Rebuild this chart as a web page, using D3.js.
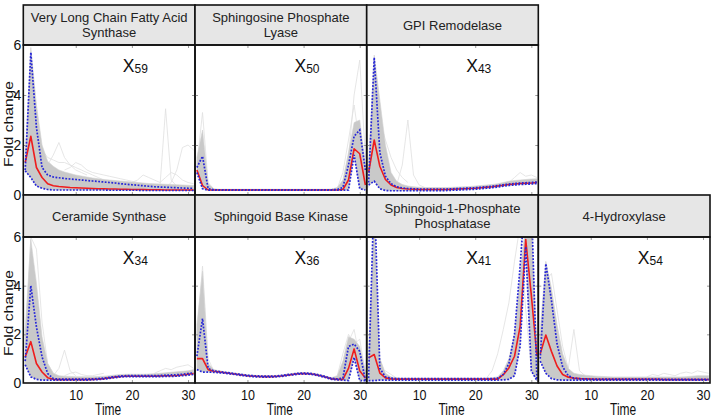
<!DOCTYPE html>
<html><head><meta charset="utf-8">
<script src="https://cdn.jsdelivr.net/npm/d3@7"></script>
<style>
html,body{margin:0;padding:0;background:#fff;}
svg text{font-family:"Liberation Sans",Arial,sans-serif;}
</style></head>
<body><svg id="chart" width="715" height="418"></svg>
<script>
// ---------- data ----------
const times = d3.range(1, 32);
const yTicks = [0, 2, 4, 6];
const xTicks = [10, 20, 30];

const titles = [
  ["Very Long Chain Fatty Acid", "Synthase"],
  ["Sphingosine Phosphate", "Lyase"],
  ["GPI Remodelase"],
  ["Ceramide Synthase"],
  ["Sphingoid Base Kinase"],
  ["Sphingoid-1-Phosphate", "Phosphatase"],
  ["4-Hydroxylase"]
];
const clusterIds = ["59", "50", "43", "34", "36", "41", "54"];

// Very Long Chain Fatty Acid Synthase
const mean0  = [1.3,2.35,1.1,0.7,0.45,0.37,0.34,0.32,0.3,0.29, 0.28,0.27,0.26,0.25,0.25,0.24,0.24,0.23,0.23,0.22, 0.22,0.22,0.21,0.21,0.21,0.2,0.2,0.2,0.2,0.2,0.2];
const upper0 = [1.0,5.7,2.7,1.1,0.8,0.72,0.69,0.66,0.64,0.62, 0.6,0.58,0.56,0.54,0.52,0.5,0.48,0.45,0.43,0.41, 0.39,0.37,0.35,0.33,0.32,0.31,0.3,0.29,0.28,0.27,0.27];
const lower0 = [0.97,0.7,0.36,0.27,0.22,0.2,0.2,0.2,0.2,0.2, 0.2,0.2,0.2,0.2,0.2,0.19,0.19,0.19,0.19,0.19, 0.19,0.18,0.18,0.18,0.18,0.18,0.18,0.18,0.18,0.18,0.18];
const band0  = [1.6,5.9,3.6,2.0,1.35,1.15,1.0,0.92,0.86,0.8, 0.76,0.72,0.68,0.65,0.62,0.6,0.58,0.56,0.54,0.52, 0.5,0.48,0.46,0.45,0.44,0.43,0.42,0.41,0.4,0.39,0.38];
const faint0 = [
  {start:24, v:[0.3,0.35,3.45,0.6,0.35,0.3]},
  {start:26, v:[0.3,0.5,1.0,1.9,2.0,1.8]},
  {start:5,  v:[1.2,1.6,2.1,1.5,1.2,1.0,0.9,0.8]},
  {start:3,  v:[2.5,1.8,1.5,1.4,1.3,1.3,1.2,1.1,1.0,0.9,0.8,0.7,0.6,0.5]},
  {start:8,  v:[1.0,1.1,1.3,1.2,1.0,0.9,0.85,0.8,0.75,0.7,0.65,0.6,0.55,0.5]},
  {start:20, v:[0.5,0.6,0.8,0.7,0.6,0.5,0.7,0.9,0.8,0.6,0.5,0.45]}
];

// Sphingosine Phosphate Lyase
const mean1  = [1.0,0.38,0.2,0.2,0.2,0.2,0.2,0.2,0.2,0.2, 0.2,0.2,0.2,0.2,0.2,0.2,0.2,0.2,0.2,0.2, 0.2,0.2,0.2,0.2,0.2,0.2,0.22,0.6,1.85,1.65,0.4];
const upper1 = [1.1,1.55,0.25,0.21,0.21,0.21,0.21,0.21,0.21,0.21, 0.21,0.21,0.21,0.21,0.21,0.21,0.21,0.21,0.21,0.21, 0.21,0.21,0.21,0.21,0.21,0.22,0.3,1.2,2.35,2.6,1.0];
const lower1 = [0.9,0.25,0.19,0.19,0.19,0.19,0.19,0.19,0.19,0.19, 0.19,0.19,0.19,0.19,0.19,0.19,0.19,0.19,0.19,0.19, 0.19,0.19,0.19,0.19,0.19,0.19,0.19,0.2,1.6,0.25,0.2];
const band1  = [1.5,2.6,0.45,0.25,0.23,0.23,0.23,0.23,0.23,0.23, 0.23,0.23,0.23,0.23,0.23,0.23,0.23,0.23,0.23,0.23, 0.23,0.23,0.23,0.23,0.24,0.3,0.6,1.7,2.9,3.0,1.2];
const faint1 = [
  {start:1,  v:[1.2,3.3,0.5,0.25]},
  {start:1,  v:[0.8,2.2,0.3]},
  {start:27, v:[0.3,1.5,4.0,5.4,1.5]},
  {start:26, v:[0.25,0.9,2.2,3.6,2.0]}
];

// GPI Remodelase
const mean2  = [0.9,2.2,1.15,0.62,0.4,0.3,0.26,0.24,0.23,0.22, 0.22,0.22,0.22,0.22,0.22,0.23,0.24,0.25,0.26,0.27, 0.29,0.31,0.33,0.36,0.39,0.42,0.44,0.46,0.47,0.48,0.5];
const upper2 = [0.5,5.5,1.7,0.75,0.45,0.33,0.28,0.26,0.25,0.24, 0.24,0.24,0.24,0.24,0.24,0.25,0.26,0.27,0.28,0.29, 0.31,0.33,0.35,0.38,0.41,0.44,0.46,0.48,0.49,0.5,0.52];
const lower2 = [0.4,0.55,0.25,0.18,0.17,0.17,0.17,0.17,0.17,0.17, 0.17,0.17,0.17,0.17,0.18,0.19,0.2,0.21,0.22,0.23, 0.25,0.27,0.29,0.32,0.35,0.38,0.4,0.42,0.43,0.44,0.46];
const band2  = [1.3,5.6,3.8,2.0,0.9,0.55,0.42,0.36,0.33,0.31, 0.3,0.3,0.3,0.3,0.3,0.31,0.32,0.33,0.34,0.36, 0.38,0.4,0.42,0.45,0.5,0.55,0.58,0.6,0.62,0.64,0.65];
const faint2 = [
  {start:6,  v:[0.4,1.2,3.0,0.8,0.4,0.3]},
  {start:2,  v:[4.0,3.0,2.2,1.5,1.0,0.7,0.5]},
  {start:1,  v:[0.3,4.8,2.5,1.2]},
  {start:26, v:[0.5,0.7,0.9,0.75,0.8,0.7]}
];

// Ceramide Synthase
const mean3  = [1.07,1.7,0.8,0.45,0.22,0.15,0.14,0.14,0.14,0.14, 0.14,0.14,0.15,0.16,0.18,0.21,0.24,0.27,0.28,0.28, 0.28,0.28,0.28,0.28,0.29,0.3,0.3,0.31,0.33,0.36,0.39];
const upper3 = [0.9,4.0,2.3,1.07,0.39,0.18,0.16,0.16,0.16,0.16, 0.16,0.16,0.17,0.18,0.2,0.23,0.26,0.29,0.3,0.3, 0.3,0.3,0.3,0.3,0.31,0.32,0.33,0.34,0.36,0.39,0.42];
const lower3 = [0.75,0.25,0.15,0.12,0.12,0.12,0.12,0.12,0.12,0.12, 0.12,0.12,0.13,0.14,0.16,0.19,0.22,0.25,0.26,0.26, 0.26,0.26,0.26,0.26,0.26,0.27,0.27,0.28,0.3,0.32,0.35];
const band3  = [2.2,5.9,4.1,1.9,0.8,0.4,0.3,0.28,0.27,0.26, 0.26,0.26,0.26,0.27,0.28,0.3,0.33,0.35,0.36,0.36, 0.36,0.36,0.37,0.38,0.4,0.42,0.44,0.46,0.48,0.5,0.55];
const faint3 = [
  {start:6,  v:[0.3,0.6,1.35,0.5,0.3]},
  {start:1,  v:[1.5,6.0,5.5,2.5,0.8,0.4]},
  {start:24, v:[0.4,0.5,0.6,0.55,0.65,0.7,0.75,0.6]},
  {start:8,  v:[0.3,0.4,0.45,0.35,0.3,0.3,0.35,0.4]}
];

// Sphingoid Base Kinase
const mean4  = [1.0,1.0,0.55,0.48,0.45,0.42,0.39,0.36,0.33,0.3, 0.28,0.27,0.26,0.26,0.27,0.29,0.32,0.35,0.38,0.39, 0.38,0.35,0.3,0.24,0.17,0.15,0.15,0.6,1.4,0.5,0.2];
const upper4 = [1.1,2.65,0.6,0.5,0.47,0.44,0.41,0.38,0.35,0.32, 0.3,0.29,0.28,0.28,0.29,0.31,0.34,0.37,0.4,0.41, 0.4,0.37,0.32,0.26,0.19,0.17,0.2,1.5,1.6,1.3,0.1];
const lower4 = [0.55,0.45,0.45,0.44,0.42,0.4,0.37,0.34,0.31,0.28, 0.26,0.25,0.24,0.24,0.25,0.27,0.3,0.33,0.36,0.37, 0.36,0.33,0.28,0.22,0.15,0.13,0.12,0.1,1.05,0.1,0.1];
const band4  = [2.4,4.6,0.8,0.55,0.5,0.46,0.43,0.4,0.37,0.34, 0.32,0.31,0.3,0.3,0.31,0.33,0.36,0.39,0.42,0.43, 0.42,0.39,0.34,0.28,0.22,0.3,0.9,1.9,1.8,1.5,0.5];
const faint4 = [
  {start:1,  v:[2.0,4.8,1.0,0.5]},
  {start:26, v:[0.3,1.2,2.0,1.6,1.8,0.4]},
  {start:27, v:[0.5,1.7,2.2,1.0,0.3]}
];

// Sphingoid-1-Phosphate Phosphatase
const mean5  = [1.03,1.17,0.41,0.21,0.17,0.16,0.16,0.16,0.16,0.16, 0.16,0.16,0.16,0.16,0.16,0.16,0.16,0.16,0.16,0.16, 0.16,0.16,0.16,0.16,0.34,0.62,1.1,2.33,5.9,3.6,1.1];
const upper5 = [0.2,8.0,0.6,0.25,0.2,0.18,0.18,0.18,0.18,0.18, 0.18,0.18,0.18,0.18,0.18,0.18,0.18,0.18,0.18,0.18, 0.18,0.18,0.18,0.2,0.35,0.8,2.0,4.8,8.0,7.5,0.1];
const lower5 = [0.1,0.1,0.12,0.12,0.12,0.12,0.12,0.12,0.12,0.12, 0.12,0.12,0.12,0.12,0.12,0.12,0.12,0.12,0.12,0.12, 0.12,0.12,0.12,0.12,0.13,0.15,0.3,1.5,5.6,0.5,0.1];
const band5  = [1.2,7.0,1.0,0.4,0.25,0.22,0.2,0.2,0.2,0.2, 0.2,0.2,0.2,0.2,0.2,0.2,0.2,0.2,0.2,0.2, 0.2,0.2,0.22,0.25,0.5,1.0,2.0,4.5,6.5,6.5,1.5];
const faint5 = [
  {start:22, v:[0.2,0.5,1.2,2.2,3.3,5.0,6.5,3.0,0.5]},
  {start:1,  v:[0.5,2.5,1.0,0.3]},
  {start:3,  v:[0.3,0.5,0.35,0.2]}
];

// 4-Hydroxylase
const mean6  = [1.2,1.97,1.3,0.7,0.35,0.24,0.2,0.18,0.17,0.16, 0.15,0.15,0.15,0.15,0.15,0.15,0.15,0.15,0.15,0.15, 0.15,0.15,0.14,0.14,0.14,0.14,0.14,0.14,0.14,0.14,0.14];
const upper6 = [1.0,4.9,3.4,1.6,0.66,0.3,0.2,0.18,0.17,0.16, 0.16,0.16,0.16,0.16,0.16,0.16,0.16,0.16,0.16,0.16, 0.16,0.16,0.15,0.15,0.15,0.15,0.15,0.15,0.15,0.15,0.15];
const lower6 = [0.9,0.4,0.18,0.13,0.12,0.12,0.12,0.12,0.12,0.12, 0.12,0.12,0.12,0.12,0.12,0.12,0.12,0.12,0.12,0.12, 0.12,0.12,0.12,0.12,0.12,0.12,0.12,0.12,0.12,0.12,0.12];
const band6  = [2.2,5.0,3.9,2.4,1.2,0.6,0.4,0.35,0.32,0.3, 0.28,0.27,0.26,0.25,0.25,0.25,0.25,0.25,0.25,0.25, 0.25,0.25,0.25,0.25,0.25,0.25,0.26,0.28,0.3,0.3,0.3];
const faint6 = [
  {start:5,  v:[0.3,0.6,2.2,0.5,0.3]},
  {start:1,  v:[1.5,4.2,4.5,3.0,1.5,0.6]},
  {start:20, v:[0.25,0.35,0.3,0.4,0.35,0.3,0.4,0.45,0.4,0.5,0.45,0.4]}
];

const panels = [
  {row:0, col:0, mean:mean0, upper:upper0, lower:lower0, band:band0, faint:faint0},
  {row:0, col:1, mean:mean1, upper:upper1, lower:lower1, band:band1, faint:faint1},
  {row:0, col:2, mean:mean2, upper:upper2, lower:lower2, band:band2, faint:faint2},
  {row:1, col:0, mean:mean3, upper:upper3, lower:lower3, band:band3, faint:faint3},
  {row:1, col:1, mean:mean4, upper:upper4, lower:lower4, band:band4, faint:faint4},
  {row:1, col:2, mean:mean5, upper:upper5, lower:lower5, band:band5, faint:faint5},
  {row:1, col:3, mean:mean6, upper:upper6, lower:lower6, band:band6, faint:faint6}
];

// ---------- layout ----------
const colX = [23.3, 195, 366.7, 538.3, 710];
const rows = [
  {hy0: 5,   hy1: 45,  py1: 195, labelY: 124},
  {hy0: 195, hy1: 237, py1: 383, labelY: 313}
];

const svg = d3.select("#chart");
const defs = svg.append("defs");

panels.forEach((p, i) => {
  const r = rows[p.row];
  const x0 = colX[p.col], x1 = colX[p.col + 1];
  const x = d3.scaleLinear().domain([0.66, 31.24]).range([x0, x1]);
  const y = d3.scaleLinear().domain([0, 6]).range([r.py1, r.hy1]);
  const g = svg.append("g");

  defs.append("clipPath").attr("id", "clip" + i)
    .append("rect").attr("x", x0).attr("y", r.hy1).attr("width", x1 - x0).attr("height", r.py1 - r.hy1);
  const plot = g.append("g").attr("clip-path", `url(#clip${i})`);

  // faint individual trajectories
  const fl = d3.line().x(d => x(d[0])).y(d => y(d[1]));
  p.faint.forEach(f => {
    plot.append("path").datum(f.v.map((v, k) => [f.start + k, v]))
      .attr("d", fl).attr("fill", "none").attr("stroke", "#e0e0e0").attr("stroke-width", 0.8);
  });

  // dense gray band
  const area = d3.area().x((d, k) => x(times[k])).y0((d, k) => y(p.lower[k])).y1(d => y(d));
  plot.append("path").datum(p.band).attr("d", area).attr("fill", "#c9c9c9").attr("stroke", "#d2d2d2").attr("stroke-width", 0.6);

  const line = d3.line().x((d, k) => x(times[k])).y(d => y(d));
  plot.append("path").datum(p.mean).attr("d", line)
    .attr("fill", "none").attr("stroke", "#ee1d1d").attr("stroke-width", 1.6).attr("stroke-linejoin", "round");
  [p.upper, p.lower].forEach(arr => {
    plot.append("path").datum(arr).attr("d", line)
      .attr("fill", "none").attr("stroke", "#2626d8").attr("stroke-width", 1.7)
      .attr("stroke-dasharray", "1.8,1.5");
  });

  // inner tick marks
  const tickStyle = sel => { sel.select(".domain").remove(); sel.selectAll("line").attr("stroke", "#9a9a9a"); sel.selectAll("text").remove(); };
  g.append("g").attr("transform", `translate(0,${r.py1})`).call(d3.axisBottom(x).tickValues(xTicks).tickSize(-3)).call(tickStyle);
  g.append("g").attr("transform", `translate(0,${r.hy1})`).call(d3.axisTop(x).tickValues(xTicks).tickSize(-3)).call(tickStyle);
  g.append("g").attr("transform", `translate(${x1},0)`).call(d3.axisRight(y).tickValues([2, 4]).tickSize(-3)).call(tickStyle);
  g.append("g").attr("transform", `translate(${x0},0)`).call(d3.axisLeft(y).tickValues([2, 4]).tickSize(-3)).call(tickStyle);

  // header
  g.append("rect").attr("x", x0).attr("y", r.hy0).attr("width", x1 - x0).attr("height", r.hy1 - r.hy0)
    .attr("fill", "#e6e6e6").attr("stroke", "#111").attr("stroke-width", 1.6);
  const tl = titles[i];
  const cy = (r.hy0 + r.hy1) / 2;
  const tt = g.append("text").attr("text-anchor", "middle").attr("font-size", 13).attr("fill", "#222");
  tl.forEach((s, k) => {
    tt.append("tspan").attr("x", (x0 + x1) / 2)
      .attr("y", cy + 4.6 + (k - (tl.length - 1) / 2) * 15.5).text(s);
  });

  // plot border
  g.append("rect").attr("x", x0).attr("y", r.hy1).attr("width", x1 - x0).attr("height", r.py1 - r.hy1)
    .attr("fill", "none").attr("stroke", "#111").attr("stroke-width", 1.6);

  // cluster label
  const lab = g.append("text").attr("x", x0 + 99.5).attr("y", r.hy1 + 27).attr("fill", "#111");
  lab.append("tspan").attr("font-size", 17.5).text("X");
  lab.append("tspan").attr("font-size", 12).attr("dy", 1.2).text(clusterIds[i]);

  // y axis labels (first column)
  if (p.col === 0) {
    const ya = g.append("g").attr("transform", `translate(${x0},0)`)
      .call(d3.axisLeft(y).tickValues(yTicks).tickFormat(d3.format("d")).tickSize(0).tickPadding(2));
    ya.select(".domain").remove();
    ya.selectAll("text").attr("font-size", 14).attr("fill", "#111").attr("font-family", "Liberation Sans, Arial, sans-serif");
    g.append("text").attr("transform", `translate(12.5,${r.labelY}) rotate(-90) scale(1.3,1)`)
      .attr("text-anchor", "middle").attr("font-size", 12).attr("fill", "#111").text("Fold change");
  }
  // x axis labels (bottom row)
  if (p.row === 1) {
    const xa = g.append("g").attr("transform", `translate(0,${r.py1})`)
      .call(d3.axisBottom(x).tickValues(xTicks).tickFormat(d3.format("d")).tickSize(0).tickPadding(5.7));
    xa.select(".domain").remove();
    xa.selectAll("text").attr("font-size", 12.5).attr("fill", "#111")
      .attr("font-family", "Liberation Sans, Arial, sans-serif").attr("transform", "scale(1,1.15)");
    g.append("text").attr("transform", `translate(${(x0 + x1) / 2 - 1},415) scale(1,1.35)`)
      .attr("text-anchor", "middle").attr("font-size", 12).attr("fill", "#111").text("Time");
  }
});
</script></body></html>
